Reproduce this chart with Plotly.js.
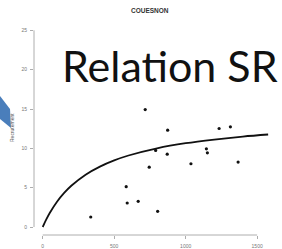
<!DOCTYPE html>
<html>
<head>
<meta charset="utf-8">
<script src="https://cdn.plot.ly/plotly-3.0.1.min.js"></script>
<style>html,body{margin:0;padding:0;background:#fff;}#chart{width:282px;height:249px;}</style>
</head>
<body>
<div id="chart"></div>
<script>
// Observed stock (S) and recruitment (R) points
var stock = [336, 584, 591, 668, 717, 745, 790, 804, 874, 871, 1037, 1145, 1152, 1234, 1313, 1367];
var recruit = [1.27, 5.12, 3.05, 3.26, 14.93, 7.61, 9.73, 1.99, 12.31, 9.26, 8.04, 9.94, 9.43, 12.52, 12.73, 8.25];
// Fitted curve
var curveS = [0, 25, 50, 100, 150, 200, 300, 400, 500, 600, 800, 1000, 1200, 1400, 1577];
var curveR = [0, 0.96, 1.81, 3.21, 4.33, 5.24, 6.65, 7.68, 8.47, 9.09, 10.0, 10.65, 11.12, 11.5, 11.76];
var xTicks = [0, 500, 1000, 1500];
var yTicks = [0, 5, 10, 15, 20, 25];
var titleText = "COUESNON";
var yTitle = "Recrutement";
var overlayText = "Relation SR";

var W = 282, H = 249, L = 34, R = 10, T = 26, B = 14;
var pw = W - L - R, ph = H - T - B;
function px(x) { return (x - L) / pw; }
function py(y) { return 1 - (y - T) / ph; }

var arrowPts = [[0, 96], [10, 109], [11, 128], [0, 119]];
var arrowPath = arrowPts.map(function (p, i) { return (i ? 'L' : 'M') + px(p[0]) + ',' + py(p[1]); }).join(' ') + ' Z';

var tickFont = {family: 'Liberation Sans, Arial, sans-serif', size: 5, color: '#777'};

var data = [
  {x: curveS, y: curveR, mode: 'lines', line: {color: '#111', width: 1.8, shape: 'spline'}, hoverinfo: 'skip'},
  {x: stock, y: recruit, mode: 'markers', marker: {color: '#111', size: 3.2}}
];

var layout = {
  width: W, height: H,
  margin: {l: L, r: R, t: T, b: B, pad: 0},
  paper_bgcolor: '#fff', plot_bgcolor: '#fff',
  showlegend: false,
  xaxis: {range: [-61, 1604], showgrid: false, zeroline: false, showline: false,
    tickvals: xTicks, ticktext: xTicks.map(String), ticks: 'outside', ticklen: 3, tickcolor: '#999', tickwidth: 0.8,
    ticklabelstandoff: 3, tickfont: tickFont},
  yaxis: {range: [-1.017, 25.55], showgrid: false, zeroline: false, showline: false,
    tickvals: yTicks, ticktext: yTicks.map(String), ticks: 'outside', ticklen: 3, tickcolor: '#999', tickwidth: 0.8,
    ticklabelstandoff: 2, tickfont: tickFont},
  shapes: [
    {type: 'line', xref: 'x', yref: 'paper', x0: 0, x1: 1500, y0: 0, y1: 0, line: {color: '#999', width: 0.8}},
    {type: 'line', xref: 'paper', yref: 'y', x0: 0, x1: 0, y0: 0, y1: 25, line: {color: '#999', width: 0.8}},
    {type: 'path', xref: 'paper', yref: 'paper', path: arrowPath, fillcolor: '#4a7ebb', line: {width: 0}}
  ],
  annotations: [
    {text: '<b>' + titleText + '</b>', xref: 'paper', yref: 'paper', x: px(150), y: py(10), showarrow: false,
      font: {family: 'Liberation Sans, Arial, sans-serif', size: 6.5, color: '#333'}, xanchor: 'center', yanchor: 'middle'},
    {text: yTitle, xref: 'paper', yref: 'paper', x: px(12), y: py(128), showarrow: false, textangle: -90,
      font: {family: 'Liberation Sans, Arial, sans-serif', size: 5, color: '#555'}, xanchor: 'center', yanchor: 'middle'},
    {text: overlayText, xref: 'paper', yref: 'paper', x: px(169.5), y: py(65), showarrow: false,
      font: {family: 'Lato, Open Sans, sans-serif', size: 43, color: '#111'}, xanchor: 'center', yanchor: 'middle'}
  ]
};

Plotly.newPlot('chart', data, layout, {staticPlot: true, displayModeBar: false});
</script>
</body>
</html>
